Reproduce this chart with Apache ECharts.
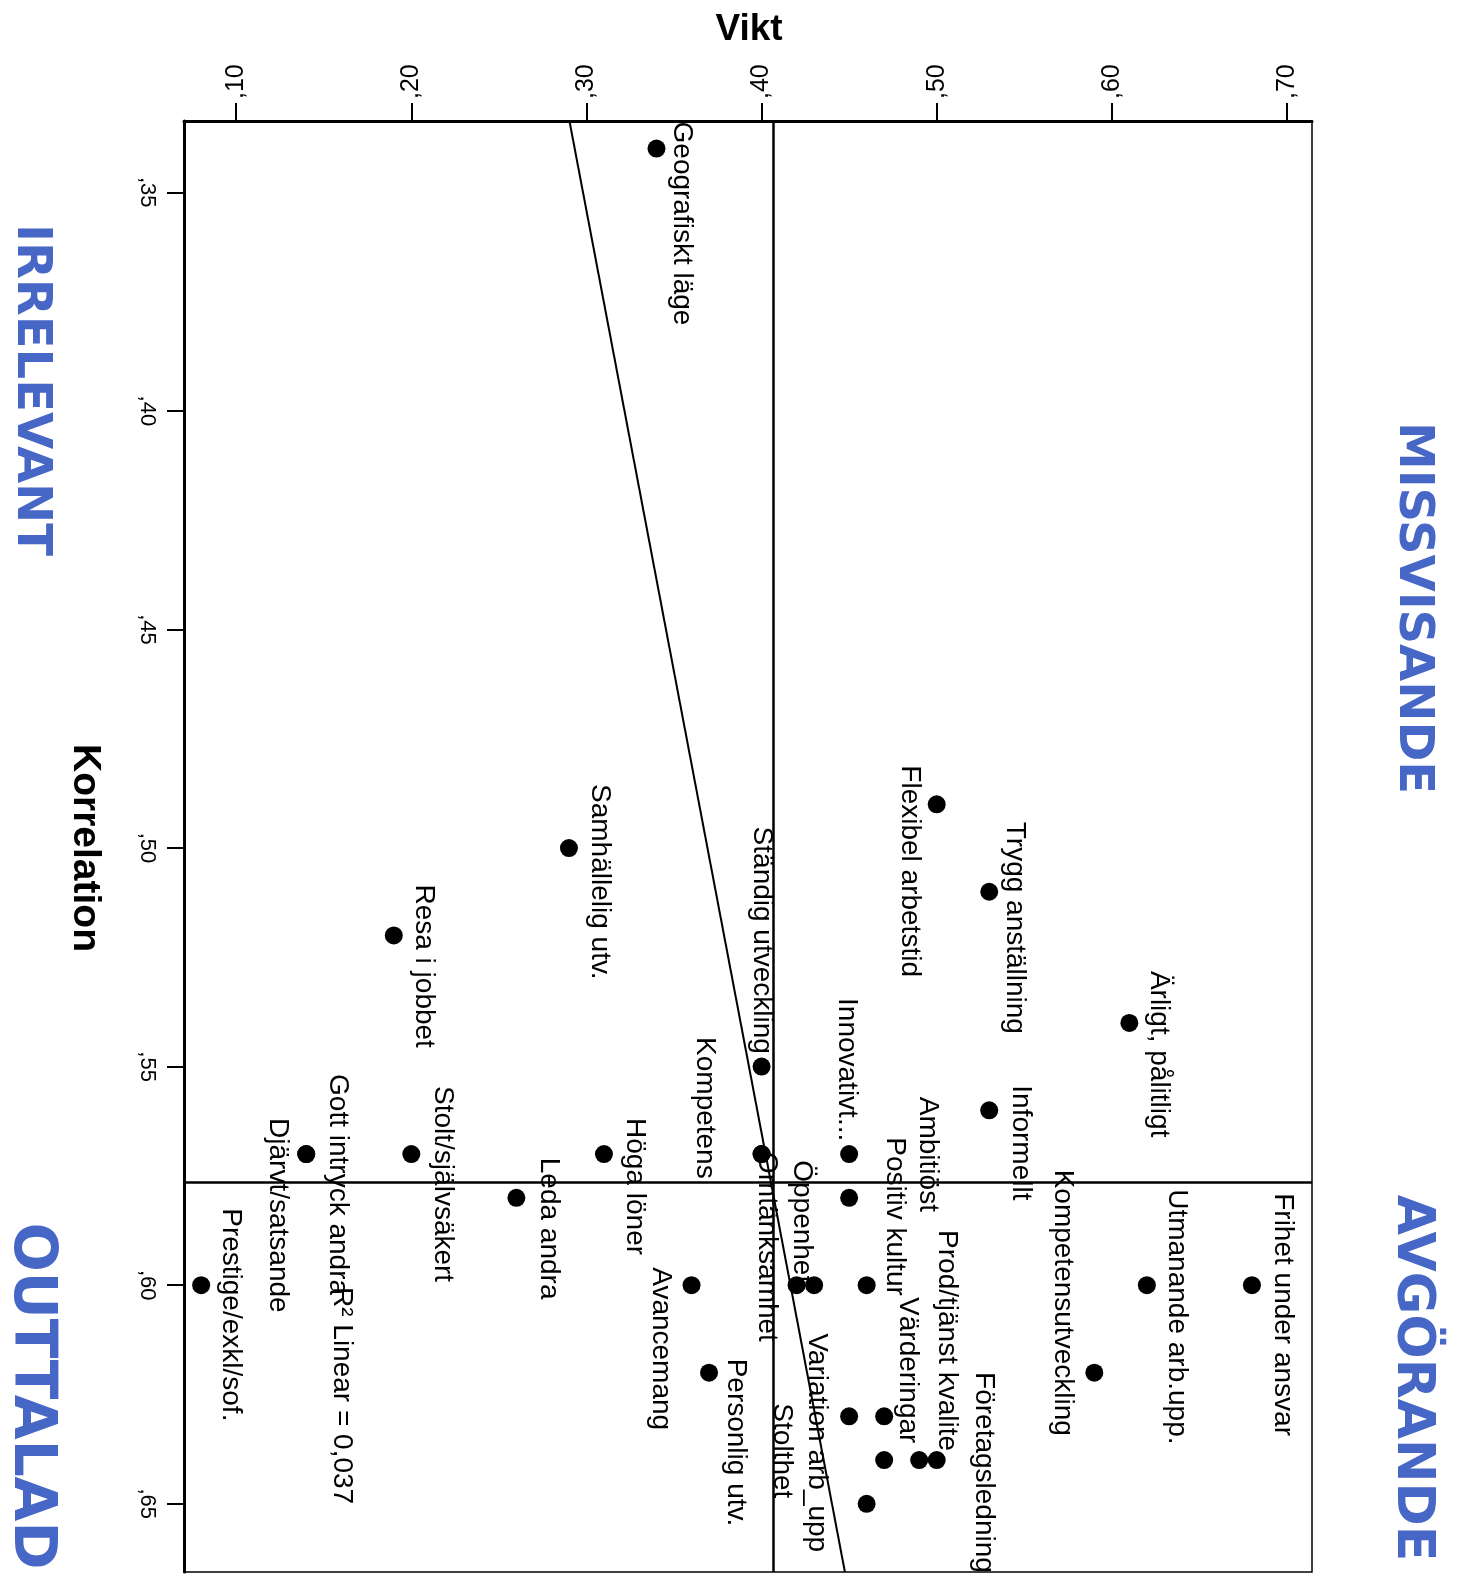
<!DOCTYPE html>
<html>
<head>
<meta charset="utf-8">
<script src="https://cdn.jsdelivr.net/npm/echarts@6/dist/echarts.min.js"></script>
<style>
html,body{margin:0;padding:0;background:#fff;}
#chart{width:1461px;height:1576px;}
</style>
</head>
<body>
<div id="chart"></div>
<script>
// ---- data ----
const pointNames = [
  'Geografiskt läge','Flexibel arbetstid','Samhällelig utv.','Trygg anställning','Resa i jobbet',
  'Ärligt, pålitligt','Ständig utveckling','Informellt','Innovativt...','Kompetens',
  'Omtänksamhet','Höga löner','Stolt/självsäkert','Gott intryck andra','Djärvt/satsande',
  'Leda andra','Ambitiöst','Frihet under ansvar','Utmanande arb.upp.','Positiv kultur',
  'Öppenhet','Variation arb_upp','Avancemang','Prestige/exkl/sof.','Kompetensutveckling',
  'Personlig utv.','Stolthet','','Värderingar','Prod/tjänst kvalite',
  'Företagsledning',''
];
const viktValues = [
  0.34,0.50,0.29,0.53,0.19,
  0.61,0.40,0.53,0.45,0.40,
  0.40,0.31,0.20,0.14,0.14,
  0.26,0.45,0.68,0.62,0.46,
  0.42,0.43,0.36,0.08,0.59,
  0.37,0.45,0.47,0.47,0.49,
  0.50,0.46
];
const korrValues = [
  0.34,0.49,0.50,0.51,0.52,
  0.54,0.55,0.56,0.57,0.57,
  0.57,0.57,0.57,0.57,0.57,
  0.58,0.58,0.60,0.60,0.60,
  0.60,0.60,0.60,0.60,0.62,
  0.62,0.63,0.63,0.64,0.64,
  0.64,0.65
];
const viktTicks = [0.10,0.20,0.30,0.40,0.50,0.60,0.70];
const viktTickLabels = [',10',',20',',30',',40',',50',',60',',70'];
const korrTicks = [0.35,0.40,0.45,0.50,0.55,0.60,0.65];
const korrTickLabels = [',35',',40',',45',',50',',55',',60',',65'];
const viktMean = 0.4066;
const korrMean = 0.5765;
const fitLine = [[0.2903,0.3337],[0.4476,0.6656]];
const fitLabel = 'R² Linear = 0,037';

// ---- label layout: screen offsets [right, down] of each point label (styling only) ----
const labelOffsets = [
  [25,-27],[-27,-39],[31,-64],[25,-70],[30,-51],
  [29,-52],[0,-240],[31,-25],[-2,-156],[-57,-117],
  [5,-2],[31,-36],[31,-68],[31,-80],[-29,-36],
  [32,-40],[79,-101],[31,-92],[30,-96],[28,-148],
  [5,-125],[3,48],[-31,-18],[30,-77],[-32,-203],
  [27,-14],[-67,-13],[0,0],[24,-163],[28,-230],
  [47,-88],[0,0]
];

const FONT = '"Liberation Sans", Arial, sans-serif';
const BLUE = '#4767c6';

// label is rotated -90deg, so its offset is expressed in the rotated frame
const pointData = pointNames.map((n, i) => ({
  name: n,
  value: [viktValues[i], korrValues[i]],
  label: { show: n !== '', offset: [labelOffsets[i][1], -labelOffsets[i][0]] }
}));

const tickLabel = (ticks, labels) => (v) => {
  for (let i = 0; i < ticks.length; i++) if (Math.abs(ticks[i] - v) < 1e-6) return labels[i];
  return '';
};

const chart = echarts.init(document.getElementById('chart'), null, {renderer: 'canvas'});
chart.setOption({
  backgroundColor: '#fff',
  animation: false,
  grid: {
    left: 184, top: 121, width: 1128, height: 1451,
    show: true, borderColor: '#000', borderWidth: 1.5, backgroundColor: 'transparent',
    containLabel: false
  },
  xAxis: {
    type: 'value', position: 'top',
    min: 0.0702, max: 0.7143,
    axisLine: { show: true, onZero: false, lineStyle: { color: '#000', width: 3 } },
    axisTick: { show: true, inside: false, length: 18, customValues: viktTicks, lineStyle: { color: '#000', width: 2 } },
    axisLabel: {
      show: true, customValues: viktTicks, formatter: tickLabel(viktTicks, viktTickLabels),
      rotate: -90, margin: 22, fontSize: 25, fontFamily: FONT, color: '#000'
    },
    splitLine: { show: false }
  },
  yAxis: {
    type: 'value', position: 'left', inverse: true,
    min: 0.3337, max: 0.6656,
    axisLine: { show: true, onZero: false, lineStyle: { color: '#000', width: 3 } },
    axisTick: { show: true, inside: false, length: 17, customValues: korrTicks, lineStyle: { color: '#000', width: 2 } },
    axisLabel: {
      show: true, customValues: korrTicks, formatter: tickLabel(korrTicks, korrTickLabels),
      rotate: -90, margin: 26, fontSize: 22, fontFamily: FONT, color: '#000'
    },
    splitLine: { show: false }
  },
  series: [
    {
      type: 'line',
      data: fitLine,
      symbol: 'none',
      lineStyle: { color: '#000', width: 2 },
      silent: true,
      z: 2,
      markLine: {
        silent: true, symbol: 'none', precision: 6,
        label: { show: false },
        lineStyle: { color: '#000', width: 2.5, type: 'solid' },
        emphasis: { disabled: true },
        data: [ { xAxis: viktMean }, { yAxis: korrMean } ]
      }
    },
    {
      type: 'scatter',
      data: pointData,
      symbol: 'circle',
      symbolSize: 18,
      itemStyle: { color: '#000', opacity: 1 },
      z: 3,
      label: {
        show: true, formatter: '{b}', position: 'inside',
        rotate: -90, align: 'left', verticalAlign: 'middle',
        color: '#000', opacity: 1, fontSize: 28, fontFamily: FONT,
        textBorderWidth: 0
      },
      emphasis: { disabled: true }
    }
  ],
  graphic: [
    { type: 'text', x: 749, y: 30, style: { text: 'Vikt', font: 'bold 37px ' + FONT, fill: '#000', align: 'center', verticalAlign: 'middle', textAlign: 'center', textVerticalAlign: 'middle' } },
    { type: 'text', x: 85, y: 848, rotation: -Math.PI / 2, style: { text: 'Korrelation', font: 'bold 39px ' + FONT, fill: '#000', align: 'center', verticalAlign: 'middle', textAlign: 'center', textVerticalAlign: 'middle' } },
    { type: 'text', x: 342, y: 1287, rotation: -Math.PI / 2, style: { text: fitLabel, font: '28px ' + FONT, fill: '#000', align: 'left', verticalAlign: 'middle', textAlign: 'left', textVerticalAlign: 'middle' } },
    { type: 'text', x: 1412, y: 608, rotation: -Math.PI / 2, style: { text: 'MISSVISANDE', font: 'bold 48px "DejaVu Sans", sans-serif', fill: BLUE, align: 'center', verticalAlign: 'middle', textAlign: 'center', textVerticalAlign: 'middle' } },
    { type: 'text', x: 1412, y: 1378, rotation: -Math.PI / 2, style: { text: 'AVGÖRANDE', font: 'bold 52px "DejaVu Sans", sans-serif', fill: BLUE, align: 'center', verticalAlign: 'middle', textAlign: 'center', textVerticalAlign: 'middle' } },
    { type: 'text', x: 30, y: 390, rotation: -Math.PI / 2, style: { text: 'IRRELEVANT', font: 'bold 48px "DejaVu Sans", sans-serif', fill: BLUE, align: 'center', verticalAlign: 'middle', textAlign: 'center', textVerticalAlign: 'middle' } },
    { type: 'text', x: 30, y: 1396, rotation: -Math.PI / 2, style: { text: 'OUTTALAD', font: 'bold 58px "DejaVu Sans", sans-serif', fill: BLUE, align: 'center', verticalAlign: 'middle', textAlign: 'center', textVerticalAlign: 'middle' } }
  ]
});
</script>
</body>
</html>
